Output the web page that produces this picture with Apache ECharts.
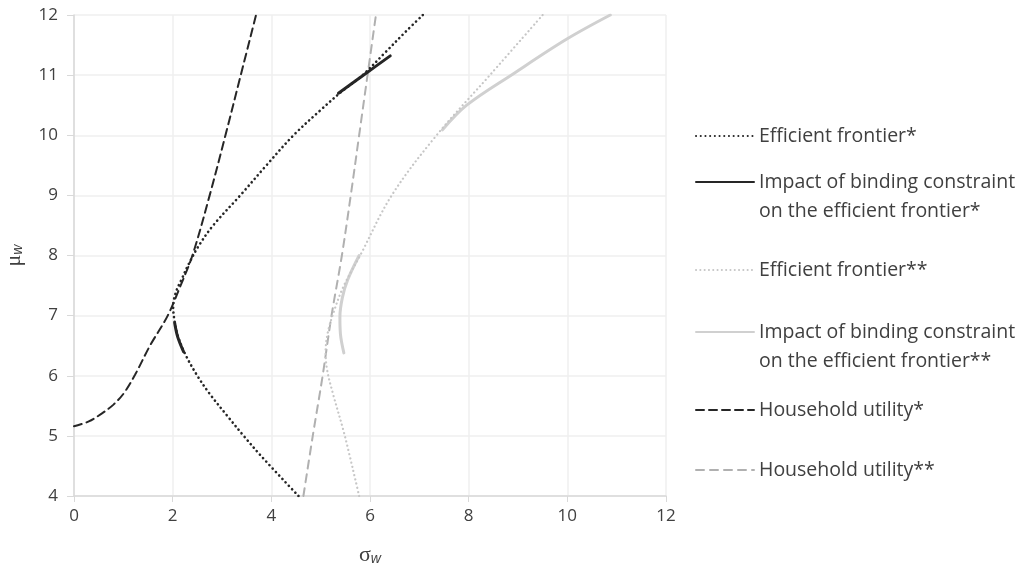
<!DOCTYPE html>
<html>
<head>
<meta charset="utf-8">
<script src="https://cdn.jsdelivr.net/npm/echarts@6/dist/echarts.min.js"></script>
<style>
  html, body { margin: 0; padding: 0; background: #fff; }
  #chart { width: 1024px; height: 574px; }
</style>
</head>
<body>
<div id="chart"></div>
<script>
// sigma_w, mu_w pairs
const frontierA = [
  [4.55, 4.0], [3.81, 4.65], [3.44, 5.0], [3.12, 5.32], [2.75, 5.7], [2.5, 6.0],
  [2.26, 6.35], [2.11, 6.65], [2.04, 6.9], [2.01, 7.15], [2.07, 7.4], [2.18, 7.6],
  [2.32, 7.85], [2.52, 8.15], [2.82, 8.5], [3.37, 9.0], [3.9, 9.5], [4.45, 10.0],
  [5.0, 10.42], [5.43, 10.73], [5.85, 11.0], [6.3, 11.37], [6.72, 11.72], [7.07, 12.0]
]
const bindingA1 = [[2.04, 6.88], [2.1, 6.65], [2.22, 6.4]]
const bindingA2 = [[5.36, 10.7], [5.9, 11.02], [6.41, 11.32]]
const frontierB = [
  [5.78, 4.0], [5.49, 5.0], [5.25, 5.7], [5.13, 6.1], [5.1, 6.4], [5.14, 6.7],
  [5.24, 7.0], [5.46, 7.48], [5.8, 8.0], [6.44, 9.0], [7.35, 10.0], [8.43, 11.0], [9.5, 12.0]
]
const bindingB1 = [[5.47, 6.38], [5.4, 6.7], [5.39, 6.98], [5.44, 7.3], [5.55, 7.6], [5.78, 8.0]]
const bindingB2 = [[7.47, 10.09], [7.96, 10.5], [8.9, 11.02], [9.99, 11.6], [10.87, 12.0]]
const utilityA = [
  [0, 5.16], [0.3, 5.24], [0.56, 5.37], [0.8, 5.52], [1.02, 5.72], [1.24, 6.02],
  [1.54, 6.5], [1.9, 7.0], [2.16, 7.5], [2.4, 8.0], [2.75, 9.0], [3.07, 10.0],
  [3.38, 11.0], [3.69, 12.0]
]
const utilityB = [
  [4.65, 4.0], [4.84, 5.0], [5.04, 6.0], [5.22, 7.0], [5.43, 8.0], [5.61, 9.0],
  [5.78, 10.0], [5.95, 11.0], [6.12, 12.0]
]

const names = [
  'Efficient frontier*',
  'Impact of binding constraint\non the efficient frontier*',
  'Efficient frontier**',
  'Impact of binding constraint\non the efficient frontier**',
  'Household utility*',
  'Household utility**'
]
// vertical centre of each legend icon
const legendRows = [136, 182, 270, 332, 410, 470]

const chart = echarts.init(document.getElementById('chart'))

const line = (name, data, color, width, type, z) => ({
  name, type: 'line', data, symbol: 'none', smooth: 0.35, z: z || 2,
  lineStyle: { color, width, type, cap: 'round' },
  itemStyle: { color }
})

const legends = names.map((n, i) => {
  const twoLines = n.indexOf('\n') >= 0
  const h = twoLines ? 87 : 29
  return {
    data: [n],
    left: 695,
    top: legendRows[i] - h / 2,
    padding: 0,
    itemWidth: 58,
    itemHeight: 14,
    selectedMode: false,
    itemStyle: { opacity: 0 },
    formatter: (s) => (s.indexOf('\n') >= 0 ? '\n' + s : s),
    textStyle: { fontFamily: 'Open Sans', fontSize: 19.5, color: '#404040', lineHeight: 29 }
  }
})

chart.setOption({
  animation: false,
  grid: { left: 74, right: 358, top: 15, bottom: 78, outerBoundsMode: 'none' },
  legend: legends,
  xAxis: {
    type: 'value', min: 0, max: 12, interval: 2,
    name: '{a|σ}{b|w}', nameLocation: 'middle', nameGap: 48,
    nameTextStyle: { rich: {
      a: { fontFamily: 'Liberation Serif', fontSize: 22, color: '#404040' },
      b: { fontFamily: 'Liberation Sans', fontStyle: 'italic', fontSize: 14, color: '#404040', verticalAlign: 'bottom', padding: [8, 0, 0, 0] }
    } },
    axisLine: { lineStyle: { color: '#d9d9d9', width: 1.5 } },
    axisTick: { show: true, length: 6, lineStyle: { color: '#d9d9d9' } },
    axisLabel: { color: '#404040', fontSize: 17, fontFamily: 'Open Sans', margin: 12 },
    splitLine: { lineStyle: { color: '#efefef', width: 1.5 } }
  },
  yAxis: {
    type: 'value', min: 4, max: 12, interval: 1,
    name: '{a|μ}{b|w}', nameLocation: 'middle', nameGap: 49, nameRotate: 90,
    nameTextStyle: { rich: {
      a: { fontFamily: 'Liberation Serif', fontSize: 22, color: '#404040' },
      b: { fontFamily: 'Liberation Sans', fontStyle: 'italic', fontSize: 14, color: '#404040', verticalAlign: 'bottom', padding: [8, 0, 0, 0] }
    } },
    axisLine: { show: true, lineStyle: { color: '#d9d9d9', width: 1.5 } },
    axisTick: { show: true, length: 7, lineStyle: { color: '#d9d9d9' } },
    axisLabel: { color: '#404040', fontSize: 17, fontFamily: 'Open Sans', margin: 16 },
    splitLine: { lineStyle: { color: '#efefef', width: 1.5 } }
  },
  series: [
    line(names[0], frontierA, '#262626', 2.6, [0.1, 4.6], 3),
    line(names[1], bindingA1, '#262626', 3, 'solid', 4),
    line(names[1], bindingA2, '#262626', 3, 'solid', 4),
    line(names[2], frontierB, '#c6c6c6', 2.2, [0.1, 4.2], 3),
    line(names[3], bindingB1, '#d0d0d0', 3, 'solid', 2),
    line(names[3], bindingB2, '#d0d0d0', 3, 'solid', 2),
    line(names[4], utilityA, '#262626', 2, [8, 5], 2),
    line(names[5], utilityB, '#b0b0b0', 2, [8, 6], 2)
  ]
})
</script>
</body>
</html>
